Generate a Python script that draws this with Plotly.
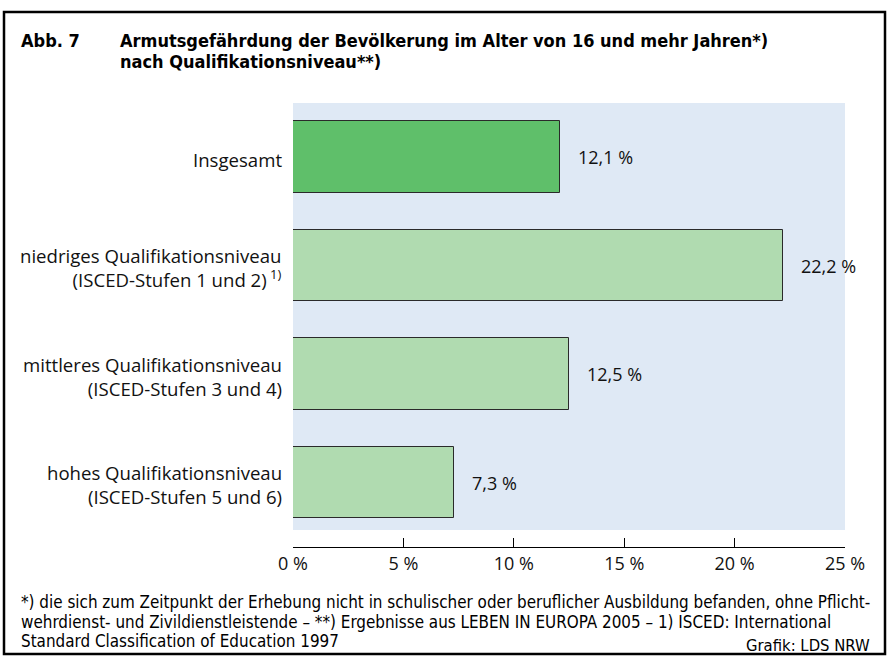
import plotly.graph_objects as go

categories = [
    "Insgesamt",
    "niedriges Qualifikationsniveau<br>(ISCED-Stufen 1 und 2)<sup> 1)</sup>",
    "mittleres Qualifikationsniveau<br>(ISCED-Stufen 3 und 4)",
    "hohes Qualifikationsniveau<br>(ISCED-Stufen 5 und 6)",
]
values = [12.1, 22.2, 12.5, 7.3]
value_labels = ["12,1 %", "22,2 %", "12,5 %", "7,3 %"]
bar_colors = ["#5fbf6a", "#b0dbb0", "#b0dbb0", "#b0dbb0"]
tick_vals = [0, 5, 10, 15, 20, 25]
tick_text = ["0 %", "5 %", "10 %", "15 %", "20 %", "25 %"]
footnote_lines = [
    "*) die sich zum Zeitpunkt der Erhebung nicht in schulischer oder beruflicher Ausbildung befanden, ohne Pflicht-",
    "wehrdienst- und Zivildienstleistende – **) Ergebnisse aus LEBEN IN EUROPA 2005 – 1) ISCED: International",
    "Standard Classification of Education 1997",
]

W, H = 894, 657
L, R, T, B = 293, 49, 103, 110
PW, PH = W - L - R, H - T - B

def px(x):
    return (x - L) / PW

def py(y):
    return (H - B - y) / PH

REG = "Open Sans, Noto Sans, DejaVu Sans, sans-serif"
COND = "Liberation Sans Narrow, DejaVu Sans Condensed, Arial Narrow, sans-serif"

ypos = list(range(len(categories)))

fig = go.Figure()
fig.add_trace(go.Bar(
    x=values, y=ypos, orientation="h", width=0.66,
    marker=dict(color=bar_colors, line=dict(color="#2a2a2a", width=1)),
    hoverinfo="skip",
))

# light blue plot background
fig.add_shape(type="rect", xref="x", yref="y", x0=0, x1=25, y0=-0.498, y1=3.438,
              fillcolor="#dfe9f5", line=dict(width=0), layer="below")

# outer frame
fig.add_shape(type="rect", xref="paper", yref="paper",
              x0=px(4), x1=px(885), y0=py(12), y1=py(654),
              line=dict(color="black", width=2.5), fillcolor="rgba(0,0,0,0)")

for i, (v, lab) in enumerate(zip(values, value_labels)):
    fig.add_annotation(x=v, y=i, xref="x", yref="y", text=lab, showarrow=False,
                       xanchor="left", xshift=16, font=dict(family=REG, size=18, color="#111"))
    fig.add_annotation(x=0, y=i, xref="paper", yref="y", yshift=-2, text=categories[i],
                       showarrow=False, xanchor="right", align="right", xshift=-9,
                       font=dict(family=REG, size=18.6, color="#111"))

fig.add_annotation(x=px(19), y=py(40), xref="paper", yref="paper", text="<b>Abb. 7</b>",
                   showarrow=False, xanchor="left", yanchor="middle",
                   font=dict(family=COND, size=18, color="black"))
fig.add_annotation(x=px(118), y=py(40), xref="paper", yref="paper",
                   text="<b>Armutsgefährdung der Bevölkerung im Alter von 16 und mehr Jahren*)</b>",
                   showarrow=False, xanchor="left", yanchor="middle", align="left",
                   font=dict(family=COND, size=18, color="black"))
fig.add_annotation(x=px(118), y=py(62), xref="paper", yref="paper",
                   text="<b>nach Qualifikationsniveau**)</b>",
                   showarrow=False, xanchor="left", yanchor="middle", align="left",
                   font=dict(family=COND, size=18, color="black"))

for j, (line, yy) in enumerate(zip(footnote_lines, [602, 622, 641])):
    fig.add_annotation(x=px(19), y=py(yy), xref="paper", yref="paper", text=line,
                       showarrow=False, xanchor="left", yanchor="middle", align="left",
                       font=dict(family=COND, size=16.9, color="black"))
fig.add_annotation(x=px(872), y=py(645), xref="paper", yref="paper", text="Grafik: LDS NRW",
                   showarrow=False, xanchor="right", yanchor="middle",
                   font=dict(family=COND, size=16.5, color="black"))

fig.update_xaxes(range=[0, 25], tickvals=tick_vals, ticktext=tick_text,
                 showgrid=False, zeroline=False, showline=True, linecolor="black", linewidth=1,
                 ticks="inside", ticklen=9, tickcolor="black",
                 tickfont=dict(family=REG, size=18, color="#111"))
fig.update_yaxes(range=[3.594, -0.498], showticklabels=False, showgrid=False,
                 zeroline=False, showline=False, ticks="")

fig.update_layout(width=W, height=H, margin=dict(l=L, r=R, t=T, b=B),
                  plot_bgcolor="white", paper_bgcolor="white", showlegend=False,
                  bargap=0)

fig.write_html("out.html", config={"displayModeBar": False},
               post_script="document.body.style.margin='0';document.body.style.overflow='hidden';")
